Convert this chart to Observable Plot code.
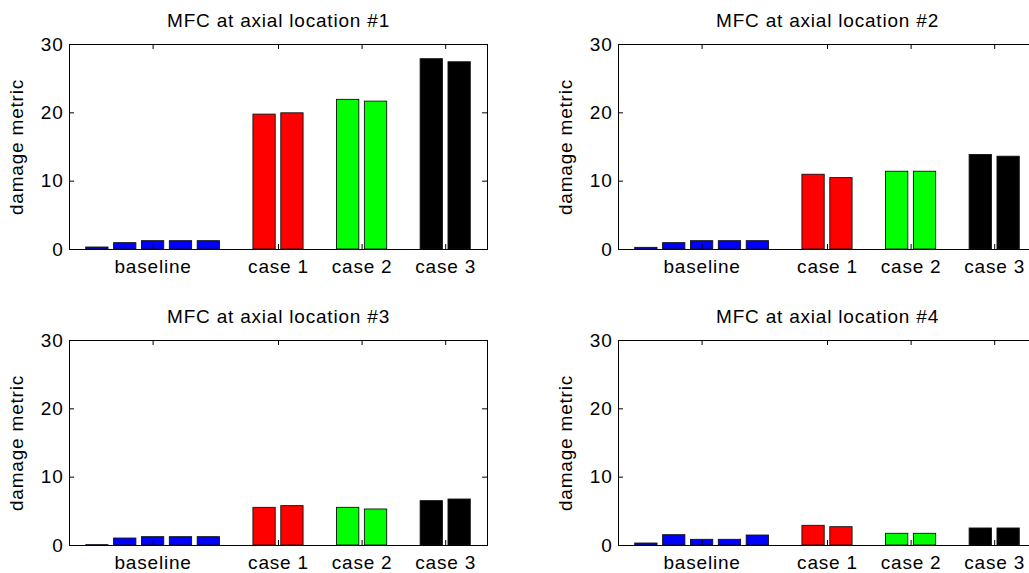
<!DOCTYPE html>
<html>
<head>
<meta charset="utf-8">
<script src="https://cdn.jsdelivr.net/npm/d3@7"></script>
<script src="https://cdn.jsdelivr.net/npm/@observablehq/plot@0.6"></script>
<style>
  html, body { margin: 0; padding: 0; background: #fff; }
  #chart { position: relative; width: 1029px; height: 573px; overflow: hidden; background: #fff; }
  #chart svg { position: absolute; }
</style>
</head>
<body>
<div id="chart"></div>
<script>
// ---- data ----
const panelTitles = ["MFC at axial location #1", "MFC at axial location #2", "MFC at axial location #3", "MFC at axial location #4"];
const groupLabels = ["baseline", "case 1", "case 2", "case 3"];
const groupTickX = [3, 7.5, 10.5, 13.5];
const barX = [1, 2, 3, 4, 5, 7, 8, 10, 11, 13, 14];
const barGroup = ["baseline","baseline","baseline","baseline","baseline","case 1","case 1","case 2","case 2","case 3","case 3"];
const groupColors = {"baseline": "#0000ff", "case 1": "#ff0000", "case 2": "#00ff00", "case 3": "#000000"};
const loc1 = [0.29, 0.93, 1.22, 1.22, 1.22, 19.74, 19.93, 21.9, 21.64, 27.85, 27.4];
const loc2 = [0.24, 0.93, 1.22, 1.22, 1.22, 10.94, 10.45, 11.38, 11.38, 13.83, 13.58];
const loc3 = [0.05, 1.02, 1.22, 1.22, 1.22, 5.51, 5.76, 5.51, 5.27, 6.49, 6.73];
const loc4 = [0.29, 1.51, 0.83, 0.83, 1.46, 2.88, 2.68, 1.71, 1.71, 2.49, 2.49];
const yTicks = [0, 10, 20, 30];
const yLabel = "damage metric";

const series = [loc1, loc2, loc3, loc4];
const placement = [[0, 0], [549, 0], [0, 296], [549, 296]];

const W = 514, H = 286;
const mL = 69, mR = 27, mT = 44, mB = 37;
const fw = W - mL - mR, fh = H - mT - mB;
const font = "'Liberation Sans', Arial, Helvetica, sans-serif";

const chart = document.getElementById("chart");

series.forEach((vals, i) => {
  const bars = barX.map((x, j) => ({x, v: vals[j], g: barGroup[j]}));
  const ticks = groupTickX.map((x, j) => ({x, label: groupLabels[j]}));
  const svg = Plot.plot({
    width: W, height: H,
    marginLeft: mL, marginRight: mR, marginTop: mT, marginBottom: mB,
    x: {domain: [0, 15], axis: null},
    y: {domain: [0, 30], axis: null},
    color: {type: "identity"},
    style: {fontSize: "19px", fontFamily: font, letterSpacing: "0.8px", color: "#000", background: "transparent", overflow: "visible"},
    marks: [
      Plot.rectY(bars, {x1: d => d.x - 0.4, x2: d => d.x + 0.4, y1: 0, y2: "v", fill: d => groupColors[d.g], stroke: "#111", strokeWidth: 0.9}),
      Plot.frame({stroke: "#000", strokeWidth: 1}),
      Plot.tickY(yTicks, {y: d => d, insetRight: fw - 5, stroke: "#000"}),
      Plot.tickY(yTicks, {y: d => d, insetLeft: fw - 5, stroke: "#000"}),
      Plot.tickX(ticks, {x: "x", insetTop: fh - 5, stroke: "#000"}),
      Plot.tickX(ticks, {x: "x", insetBottom: fh - 5, stroke: "#000"}),
      Plot.text(yTicks, {y: d => d, text: d => String(d), frameAnchor: "left", textAnchor: "end", dx: -6, fill: "#000"}),
      Plot.text(ticks, {x: "x", text: "label", frameAnchor: "bottom", lineAnchor: "top", dy: 10, fill: "#000"}),
      Plot.text([panelTitles[i]], {text: d => d, frameAnchor: "top", lineAnchor: "bottom", dy: -18, fill: "#000"}),
      Plot.text([yLabel], {text: d => d, frameAnchor: "left", rotate: -90, dx: -53, textAnchor: "middle", lineAnchor: "middle", fill: "#000"})
    ]
  });
  svg.style.left = placement[i][0] + "px";
  svg.style.top = placement[i][1] + "px";
  chart.appendChild(svg);
});
</script>
</body>
</html>
